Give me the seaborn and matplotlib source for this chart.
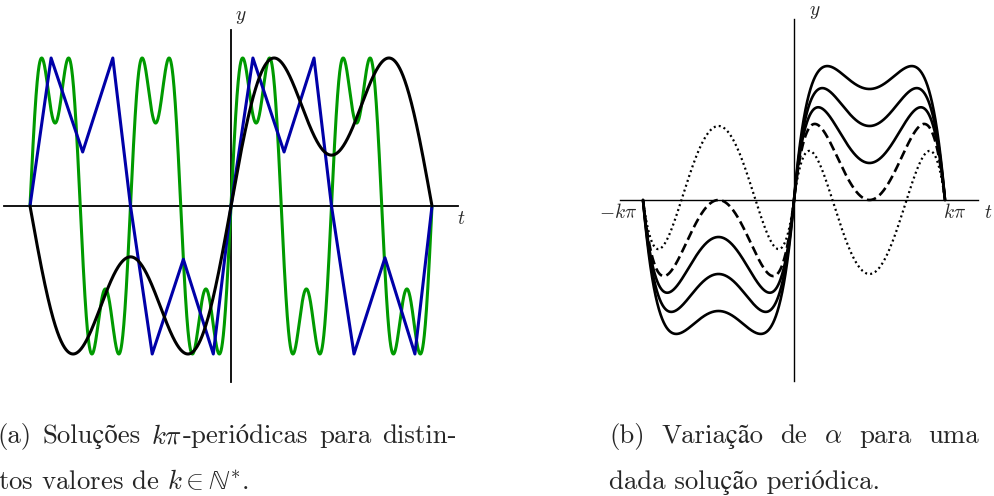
import numpy as np
import matplotlib
matplotlib.use("Agg")
import matplotlib.pyplot as plt
import seaborn as sns

sns.set_theme(style="white")
plt.rcParams["mathtext.fontset"] = "cm"
plt.rcParams["font.family"] = ["cmr10", "STIXGeneral", "DejaVu Serif"]
plt.rcParams["axes.unicode_minus"] = False

W, H = 994, 496

# ---------------- panel (a): kπ-periodic solutions (t scaled so ±kπ -> ±1) ----
# smooth solutions: oscillations per half-interval and weight of the 3rd harmonic
smooth_freq = [4, 1]
smooth_harm3 = [0.43, 0.60]
smooth_peak = [1.0, 1.0]
smooth_color = ["#009a00", "#000000"]

# the intermediate solution (k = 2), drawn through its turning points
blue_t = [-1.0, -0.895, -0.738, -0.588, -0.5, -0.392, -0.237, -0.088, 0.0,
          0.109, 0.264, 0.413, 0.5, 0.612, 0.766, 0.915, 1.0]
blue_y = [0.0, 1.0, 0.365, 1.0, 0.0, -1.0, -0.36, -1.0, 0.0,
          1.0, 0.365, 1.0, 0.0, -1.0, -0.35, -1.0, 0.0]
blue_color = "#0000a8"

# ---------------- panel (b): one solution for several values of alpha ------
alphas = [3, 2, 1, 0, -2]
alpha_styles = ["solid", "solid", "solid", "dashed", "dotted"]
base_amp = 3.11      # amplitude of the alpha = 0 solution
edge_width = 0.085   # width of the boundary layer near t = ±kπ

# ---------------- captions ----------------
cap_a_line1 = [["(a)"], ["Soluções"], [r"$k\pi$", "-periódicas"], ["para"], ["distin-"]]
cap_a_line2 = r"tos valores de $k \in \mathbb{N}^{*}$."
cap_b_line1 = [["(b)"], ["Variação"], ["de"], [r"$\alpha$"], ["para"], ["uma"]]
cap_b_line2 = "dada solução periódica."

t = np.linspace(-1.0, 1.0, 2401)


def px_rect(x0, y0, x1, y1):
    return [x0 / W, 1 - y1 / H, (x1 - x0) / W, (y1 - y0) / H]


def cross_axes(ax, xb, yb, lw):
    for side in ("top", "right"):
        ax.spines[side].set_visible(False)
    ax.spines["left"].set_position(("data", 0))
    ax.spines["bottom"].set_position(("data", 0))
    ax.spines["bottom"].set_bounds(*xb)
    ax.spines["left"].set_bounds(*yb)
    for side in ("left", "bottom"):
        ax.spines[side].set_color("black")
        ax.spines[side].set_linewidth(lw)
        ax.spines[side].set_zorder(1)
    ax.set_xticks([])
    ax.set_yticks([])
    ax.patch.set_alpha(0)


fig = plt.figure(figsize=(W / 100, H / 100), dpi=100)
fig.patch.set_facecolor("white")

# ---- (a)
axa = fig.add_axes(px_rect(0, 0, 470, 400))
axa.set_xlim((0 - 231) / 201, (470 - 231) / 201)
axa.set_ylim((206 - 400) / 148, 206 / 148)
cross_axes(axa, (-1.129, 1.129), (-1.189, 1.189), 1.3)


def smooth_solution(f, c, pk):
    s = np.pi * f * t
    g = np.sin(s) + c * np.sin(3 * s)
    return pk * g / g.max()


sns.lineplot(x=t, y=smooth_solution(smooth_freq[0], smooth_harm3[0], smooth_peak[0]),
             ax=axa, sort=False, estimator=None, color=smooth_color[0],
             linewidth=2.2, zorder=3)
sns.lineplot(x=blue_t, y=blue_y, ax=axa, sort=False, estimator=None,
             color=blue_color, linewidth=2.2, zorder=4,
             solid_joinstyle="round")
sns.lineplot(x=t, y=smooth_solution(smooth_freq[1], smooth_harm3[1], smooth_peak[1]),
             ax=axa, sort=False, estimator=None, color=smooth_color[1],
             linewidth=2.2, zorder=5)

axa.text((241 - 231) / 201, (206 - 17) / 148, "$y$", fontsize=14,
         ha="center", va="center")
axa.text((461 - 231) / 201, (206 - 219) / 148, "$t$", fontsize=14,
         ha="center", va="center")

# ---- (b)
axb = fig.add_axes(px_rect(590, 0, 994, 400))
axb.set_xlim((590 - 794) / 151, (994 - 794) / 151)
axb.set_ylim((200 - 400) / 37, 200 / 37)
cross_axes(axb, (-1.152, 1.219), (-4.89, 4.89), 1.0)

u = np.abs(t)
edge = (1 - np.exp(-u / edge_width)) * (1 - np.exp(-(1 - u) / edge_width))
base = base_amp * np.cos(np.pi * u) ** 2 * edge
for a, ls in zip(alphas, alpha_styles):
    y = np.sign(t) * (base + a * np.sin(np.pi * u))
    if ls == "dashed":
        kw = dict(linestyle=(0, (3.6, 1.7)), linewidth=1.9)
    elif ls == "dotted":
        kw = dict(linestyle=(0, (0.9, 1.4)), linewidth=1.6)
    else:
        kw = dict(linestyle="-", linewidth=1.9)
    sns.lineplot(x=t, y=y, ax=axb, sort=False, estimator=None, color="black",
                 zorder=3, **kw)

axb.text((815 - 794) / 151, (200 - 12) / 37, "$y$", fontsize=14,
         ha="center", va="center")
axb.text((988 - 794) / 151, (200 - 213) / 37, "$t$", fontsize=14,
         ha="center", va="center")
axb.text((618 - 794) / 151, (200 - 213) / 37, r"$-k\pi$", fontsize=14,
         ha="center", va="center")
axb.text((955 - 794) / 151, (200 - 213) / 37, r"$k\pi$", fontsize=14,
         ha="center", va="center")

# ---- captions
cap_fs = 19.3
renderer = fig.canvas.get_renderer()


def put(x, y, s, ha="left"):
    return fig.text(x / W, 1 - y / H, s, fontsize=cap_fs, va="baseline", ha=ha)


def justified(groups, x0, x1, y):
    """Spread word groups evenly between pixel columns x0 and x1."""
    made = []
    widths = []
    for grp in groups:
        parts = [put(0, y, s) for s in grp]
        ws = [p.get_window_extent(renderer).width for p in parts]
        made.append((parts, ws))
        widths.append(sum(ws))
    gap = (x1 - x0 - sum(widths)) / (len(groups) - 1)
    x = x0
    for (parts, ws), wtot in zip(made, widths):
        xx = x
        for p, w in zip(parts, ws):
            p.set_x(xx / W)
            xx += w
        x += wtot + gap


justified(cap_a_line1, -3, 457, 443)
put(-2, 489, cap_a_line2)
justified(cap_b_line1, 609, 979, 443)
put(609, 489, cap_b_line2)

fig.savefig("out.png", dpi=100, facecolor="white")
